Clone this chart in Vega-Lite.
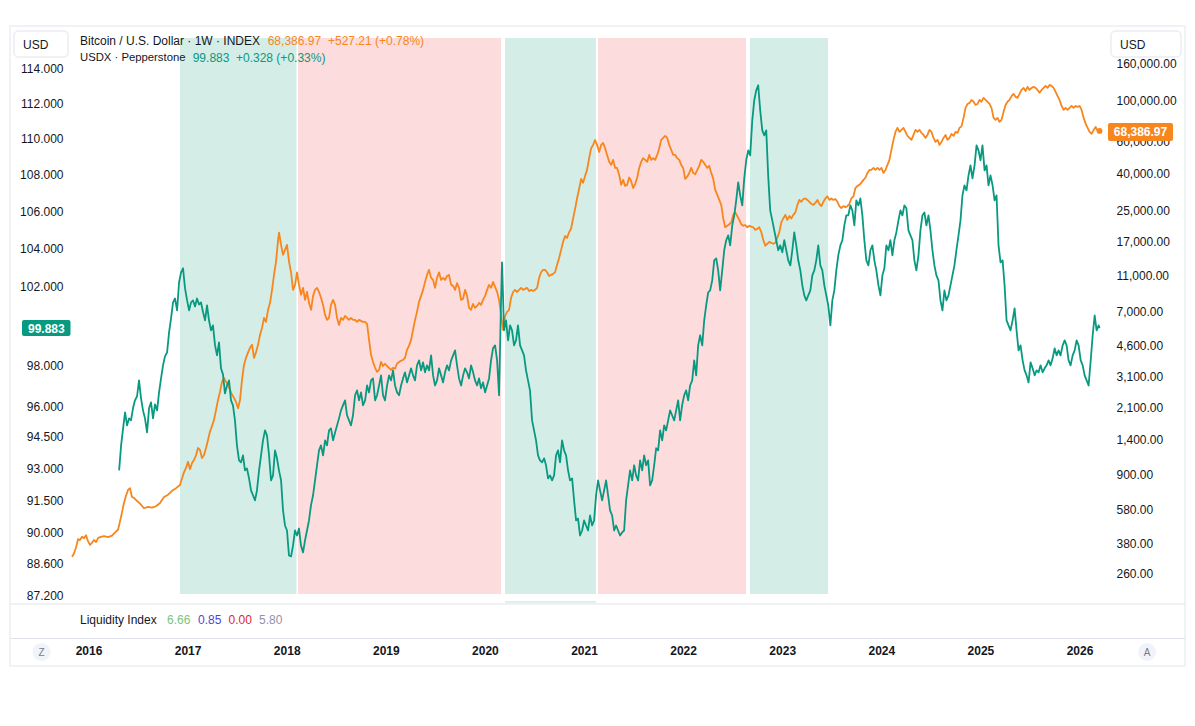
{
  "$schema": "https://vega.github.io/schema/vega-lite/v6.json",
  "width": 1175,
  "height": 640,
  "autosize": {"type": "none"},
  "padding": {"left": 10, "top": 26, "right": 10, "bottom": 60},
  "background": "#ffffff",
  "config": {
    "view": {"stroke": "#eceef3", "strokeWidth": 1.5},
    "font": "Liberation Sans",
    "text": {"font": "Liberation Sans", "fontSize": 12}
  },
  "datasets": {
    "regimes": [
      {"start": 2016.923, "end": 2018.099, "phase": "expanding"},
      {"start": 2018.114, "end": 2020.1625, "phase": "contracting"},
      {"start": 2020.203, "end": 2021.121, "phase": "expanding"},
      {"start": 2021.141, "end": 2022.635, "phase": "contracting"},
      {"start": 2022.675, "end": 2023.462, "phase": "expanding"}
    ],
    "btc": [
      {"t":2015.834,"v":320},{"t":2015.854,"v":335},{"t":2015.874,"v":360},{"t":2015.894,"v":400},{"t":2015.914,"v":395},{"t":2015.934,"v":412},{"t":2015.955,"v":405},{"t":2015.975,"v":420},{"t":2015.995,"v":390},{"t":2016.015,"v":372},{"t":2016.035,"v":382},{"t":2016.055,"v":396},{"t":2016.076,"v":385},{"t":2016.096,"v":405},{"t":2016.116,"v":410},{"t":2016.156,"v":415},{"t":2016.197,"v":410},{"t":2016.237,"v":418},{"t":2016.277,"v":440},{"t":2016.298,"v":450},{"t":2016.318,"v":500},{"t":2016.338,"v":560},{"t":2016.358,"v":630},{"t":2016.378,"v":690},{"t":2016.399,"v":743},{"t":2016.419,"v":760},{"t":2016.439,"v":680},{"t":2016.459,"v":672},{"t":2016.479,"v":655},{"t":2016.52,"v":625},{"t":2016.56,"v":590},{"t":2016.601,"v":600},{"t":2016.641,"v":595},{"t":2016.681,"v":605},{"t":2016.722,"v":630},{"t":2016.762,"v":680},{"t":2016.803,"v":700},{"t":2016.843,"v":735},{"t":2016.883,"v":760},{"t":2016.923,"v":790},{"t":2016.944,"v":860},{"t":2016.964,"v":930},{"t":2016.984,"v":980},
      {"t":2017.004,"v":1060},{"t":2017.024,"v":965},{"t":2017.044,"v":1040},{"t":2017.064,"v":1084},{"t":2017.085,"v":1150},{"t":2017.105,"v":1260},{"t":2017.125,"v":1230},{"t":2017.145,"v":1110},{"t":2017.165,"v":1150},{"t":2017.186,"v":1260},{"t":2017.206,"v":1395},{"t":2017.226,"v":1550},{"t":2017.246,"v":1660},{"t":2017.266,"v":1795},{"t":2017.287,"v":2035},{"t":2017.307,"v":2309},{"t":2017.327,"v":2560},{"t":2017.347,"v":2900},{"t":2017.367,"v":3050},{"t":2017.388,"v":2900},{"t":2017.408,"v":2790},{"t":2017.428,"v":2620},{"t":2017.448,"v":2470},{"t":2017.468,"v":2370},{"t":2017.489,"v":2250},{"t":2017.509,"v":2080},{"t":2017.529,"v":2309},{"t":2017.549,"v":2970},{"t":2017.569,"v":3590},{"t":2017.589,"v":3920},{"t":2017.61,"v":4200},{"t":2017.63,"v":4450},{"t":2017.65,"v":4620},{"t":2017.67,"v":3920},{"t":2017.69,"v":4200},{"t":2017.711,"v":4620},{"t":2017.731,"v":5240},{"t":2017.751,"v":5720},{"t":2017.771,"v":6480},{"t":2017.791,"v":6170},{"t":2017.812,"v":7180},{"t":2017.832,"v":7840},{"t":2017.852,"v":9230},{"t":2017.872,"v":11150},{"t":2017.892,"v":13140},{"t":2017.913,"v":17330},{"t":2017.923,"v":19000},{"t":2017.943,"v":16270},{"t":2017.963,"v":14350},{"t":2017.983,"v":15280},
      {"t":2018.003,"v":16270},{"t":2018.024,"v":13140},{"t":2018.044,"v":11520},{"t":2018.064,"v":9230},{"t":2018.084,"v":9830},{"t":2018.104,"v":11520},{"t":2018.124,"v":9830},{"t":2018.145,"v":8670},{"t":2018.165,"v":9470},{"t":2018.185,"v":8140},{"t":2018.205,"v":8990},{"t":2018.225,"v":7840},{"t":2018.246,"v":7180},{"t":2018.266,"v":8560},{"t":2018.286,"v":9230},{"t":2018.306,"v":9470},{"t":2018.326,"v":8990},{"t":2018.347,"v":8340},{"t":2018.367,"v":7640},{"t":2018.387,"v":6740},{"t":2018.407,"v":6330},{"t":2018.427,"v":6480},{"t":2018.447,"v":7640},{"t":2018.468,"v":8140},{"t":2018.488,"v":7640},{"t":2018.508,"v":6480},{"t":2018.528,"v":5940},{"t":2018.548,"v":6480},{"t":2018.569,"v":6330},{"t":2018.589,"v":6650},{"t":2018.609,"v":6480},{"t":2018.629,"v":6330},{"t":2018.649,"v":6480},{"t":2018.67,"v":6330},{"t":2018.69,"v":6330},{"t":2018.71,"v":6170},{"t":2018.73,"v":6330},{"t":2018.75,"v":6250},{"t":2018.77,"v":6170},{"t":2018.791,"v":6170},{"t":2018.811,"v":6020},{"t":2018.831,"v":4920},{"t":2018.851,"v":4070},{"t":2018.871,"v":3730},{"t":2018.892,"v":3460},{"t":2018.912,"v":3290},{"t":2018.932,"v":3370},{"t":2018.952,"v":3730},{"t":2018.972,"v":3540},{"t":2018.992,"v":3640},
      {"t":2019.013,"v":3540},{"t":2019.033,"v":3460},{"t":2019.053,"v":3370},{"t":2019.073,"v":3460},{"t":2019.093,"v":3420},{"t":2019.113,"v":3640},{"t":2019.134,"v":3730},{"t":2019.154,"v":3780},{"t":2019.174,"v":3820},{"t":2019.194,"v":3920},{"t":2019.214,"v":4340},{"t":2019.234,"v":4560},{"t":2019.255,"v":4920},{"t":2019.275,"v":5580},{"t":2019.295,"v":6330},{"t":2019.315,"v":7000},{"t":2019.335,"v":7940},{"t":2019.356,"v":8560},{"t":2019.376,"v":9230},{"t":2019.396,"v":10200},{"t":2019.416,"v":11150},{"t":2019.436,"v":11880},{"t":2019.457,"v":10740},{"t":2019.477,"v":10470},{"t":2019.497,"v":9470},{"t":2019.517,"v":10740},{"t":2019.537,"v":11520},{"t":2019.558,"v":10470},{"t":2019.578,"v":10740},{"t":2019.598,"v":10470},{"t":2019.618,"v":11000},{"t":2019.638,"v":11150},{"t":2019.659,"v":9830},{"t":2019.679,"v":9710},{"t":2019.699,"v":9230},{"t":2019.719,"v":10060},{"t":2019.739,"v":9470},{"t":2019.759,"v":8140},{"t":2019.779,"v":8240},{"t":2019.8,"v":9230},{"t":2019.82,"v":8560},{"t":2019.84,"v":7360},{"t":2019.86,"v":7180},{"t":2019.88,"v":7740},{"t":2019.901,"v":7360},{"t":2019.921,"v":7540},{"t":2019.941,"v":7840},{"t":2019.961,"v":7640},{"t":2019.981,"v":8140},
      {"t":2020.002,"v":8560},{"t":2020.022,"v":9230},{"t":2020.042,"v":9830},{"t":2020.062,"v":9470},{"t":2020.082,"v":10200},{"t":2020.103,"v":9590},{"t":2020.123,"v":9000},{"t":2020.143,"v":8140},{"t":2020.163,"v":6740},{"t":2020.183,"v":5580},{"t":2020.204,"v":6650},{"t":2020.224,"v":7000},{"t":2020.244,"v":7180},{"t":2020.264,"v":8340},{"t":2020.284,"v":8990},{"t":2020.304,"v":9230},{"t":2020.325,"v":8990},{"t":2020.345,"v":9230},{"t":2020.365,"v":9470},{"t":2020.385,"v":9230},{"t":2020.405,"v":9350},{"t":2020.426,"v":9470},{"t":2020.446,"v":9110},{"t":2020.466,"v":9230},{"t":2020.486,"v":9110},{"t":2020.506,"v":9230},{"t":2020.527,"v":9470},{"t":2020.547,"v":10740},{"t":2020.567,"v":11520},{"t":2020.587,"v":11880},{"t":2020.607,"v":11880},{"t":2020.627,"v":11520},{"t":2020.648,"v":11000},{"t":2020.668,"v":11150},{"t":2020.688,"v":11300},{"t":2020.708,"v":11520},{"t":2020.728,"v":12650},{"t":2020.749,"v":13800},{"t":2020.769,"v":15280},{"t":2020.789,"v":16900},{"t":2020.809,"v":18200},{"t":2020.829,"v":17760},{"t":2020.85,"v":19100},{"t":2020.87,"v":20000},{"t":2020.89,"v":22700},{"t":2020.91,"v":25600},{"t":2020.93,"v":29200},{"t":2020.951,"v":33000},{"t":2020.971,"v":37400},{"t":2020.991,"v":35600},
      {"t":2021.011,"v":38800},{"t":2021.031,"v":41840},{"t":2021.052,"v":48500},{"t":2021.072,"v":55000},{"t":2021.092,"v":57300},{"t":2021.112,"v":61000},{"t":2021.132,"v":57300},{"t":2021.153,"v":52500},{"t":2021.173,"v":57300},{"t":2021.193,"v":58700},{"t":2021.213,"v":55000},{"t":2021.233,"v":50540},{"t":2021.254,"v":46300},{"t":2021.274,"v":44560},{"t":2021.294,"v":47460},{"t":2021.314,"v":42900},{"t":2021.334,"v":42900},{"t":2021.355,"v":39290},{"t":2021.375,"v":34640},{"t":2021.395,"v":36890},{"t":2021.415,"v":34200},{"t":2021.435,"v":34640},{"t":2021.456,"v":38000},{"t":2021.476,"v":36300},{"t":2021.496,"v":33300},{"t":2021.516,"v":35000},{"t":2021.537,"v":38000},{"t":2021.557,"v":42900},{"t":2021.577,"v":46300},{"t":2021.597,"v":48500},{"t":2021.617,"v":47460},{"t":2021.638,"v":46300},{"t":2021.658,"v":50540},{"t":2021.678,"v":47460},{"t":2021.698,"v":48500},{"t":2021.718,"v":47460},{"t":2021.739,"v":50540},{"t":2021.759,"v":55000},{"t":2021.779,"v":61060},{"t":2021.799,"v":62610},{"t":2021.819,"v":64200},{"t":2021.84,"v":62610},{"t":2021.86,"v":57330},{"t":2021.88,"v":53830},{"t":2021.9,"v":50540},{"t":2021.92,"v":50540},{"t":2021.941,"v":48500},{"t":2021.961,"v":47460},{"t":2021.981,"v":44560},
      {"t":2022.001,"v":42900},{"t":2022.021,"v":37400},{"t":2022.042,"v":38400},{"t":2022.062,"v":40300},{"t":2022.082,"v":42900},{"t":2022.102,"v":40300},{"t":2022.122,"v":39600},{"t":2022.143,"v":41840},{"t":2022.163,"v":44000},{"t":2022.183,"v":47460},{"t":2022.203,"v":46300},{"t":2022.224,"v":44560},{"t":2022.244,"v":42900},{"t":2022.264,"v":44000},{"t":2022.284,"v":40300},{"t":2022.304,"v":37400},{"t":2022.324,"v":32500},{"t":2022.345,"v":30540},{"t":2022.365,"v":28670},{"t":2022.385,"v":26900},{"t":2022.405,"v":22700},{"t":2022.425,"v":20300},{"t":2022.446,"v":20700},{"t":2022.466,"v":21100},{"t":2022.486,"v":21600},{"t":2022.506,"v":23740},{"t":2022.526,"v":24500},{"t":2022.547,"v":23400},{"t":2022.567,"v":22290},{"t":2022.587,"v":21100},{"t":2022.607,"v":20700},{"t":2022.627,"v":20900},{"t":2022.648,"v":20300},{"t":2022.668,"v":20700},{"t":2022.688,"v":20500},{"t":2022.708,"v":20300},{"t":2022.728,"v":19650},{"t":2022.749,"v":19900},{"t":2022.769,"v":20300},{"t":2022.789,"v":19100},{"t":2022.809,"v":17330},{"t":2022.829,"v":16100},{"t":2022.85,"v":16500},{"t":2022.87,"v":16900},{"t":2022.89,"v":16700},{"t":2022.91,"v":16500},{"t":2022.93,"v":16700},{"t":2022.95,"v":17770},{"t":2022.971,"v":19100},{"t":2022.991,"v":21600},
      {"t":2023.011,"v":22700},{"t":2023.031,"v":23740},{"t":2023.052,"v":22290},{"t":2023.072,"v":23400},{"t":2023.092,"v":22700},{"t":2023.112,"v":23740},{"t":2023.133,"v":24500},{"t":2023.153,"v":26900},{"t":2023.173,"v":28670},{"t":2023.193,"v":28000},{"t":2023.214,"v":29000},{"t":2023.234,"v":29200},{"t":2023.254,"v":28670},{"t":2023.274,"v":28000},{"t":2023.294,"v":27300},{"t":2023.315,"v":26920},{"t":2023.335,"v":27600},{"t":2023.355,"v":28670},{"t":2023.375,"v":27300},{"t":2023.395,"v":26500},{"t":2023.416,"v":28000},{"t":2023.436,"v":29200},{"t":2023.456,"v":30000},{"t":2023.476,"v":28670},{"t":2023.496,"v":29200},{"t":2023.517,"v":28670},{"t":2023.537,"v":29000},{"t":2023.557,"v":28000},{"t":2023.577,"v":26500},{"t":2023.597,"v":25900},{"t":2023.618,"v":26500},{"t":2023.638,"v":26200},{"t":2023.658,"v":26500},{"t":2023.678,"v":27300},{"t":2023.698,"v":29200},{"t":2023.719,"v":30000},{"t":2023.739,"v":33300},{"t":2023.759,"v":34200},{"t":2023.779,"v":34640},{"t":2023.799,"v":35600},{"t":2023.82,"v":36890},{"t":2023.84,"v":37900},{"t":2023.86,"v":40300},{"t":2023.88,"v":41840},{"t":2023.9,"v":41840},{"t":2023.921,"v":42900},{"t":2023.941,"v":41840},{"t":2023.961,"v":42900},{"t":2023.981,"v":41840},
      {"t":2024.001,"v":42900},{"t":2024.022,"v":40300},{"t":2024.042,"v":41840},{"t":2024.062,"v":44560},{"t":2024.082,"v":47460},{"t":2024.102,"v":53830},{"t":2024.123,"v":61060},{"t":2024.143,"v":67500},{"t":2024.163,"v":71010},{"t":2024.183,"v":67500},{"t":2024.203,"v":69250},{"t":2024.224,"v":71010},{"t":2024.244,"v":67500},{"t":2024.264,"v":64200},{"t":2024.284,"v":62610},{"t":2024.304,"v":61060},{"t":2024.325,"v":65020},{"t":2024.345,"v":69250},{"t":2024.365,"v":67500},{"t":2024.385,"v":69250},{"t":2024.405,"v":66700},{"t":2024.426,"v":65020},{"t":2024.446,"v":62610},{"t":2024.466,"v":65020},{"t":2024.486,"v":69250},{"t":2024.506,"v":67500},{"t":2024.527,"v":62610},{"t":2024.547,"v":59500},{"t":2024.567,"v":61060},{"t":2024.587,"v":57330},{"t":2024.607,"v":59500},{"t":2024.628,"v":62610},{"t":2024.648,"v":65020},{"t":2024.668,"v":61060},{"t":2024.688,"v":62610},{"t":2024.708,"v":65850},{"t":2024.729,"v":64200},{"t":2024.749,"v":67500},{"t":2024.769,"v":66700},{"t":2024.789,"v":71010},{"t":2024.809,"v":72400},{"t":2024.83,"v":80540},{"t":2024.85,"v":91340},{"t":2024.87,"v":96000},{"t":2024.89,"v":97300},{"t":2024.91,"v":101000},{"t":2024.931,"v":98700},{"t":2024.951,"v":94860},{"t":2024.971,"v":96000},{"t":2024.991,"v":101000},
      {"t":2025.011,"v":98700},{"t":2025.032,"v":103600},{"t":2025.052,"v":101000},{"t":2025.072,"v":98700},{"t":2025.092,"v":96000},{"t":2025.112,"v":91340},{"t":2025.133,"v":80540},{"t":2025.153,"v":78540},{"t":2025.173,"v":80540},{"t":2025.193,"v":76590},{"t":2025.213,"v":78540},{"t":2025.234,"v":87000},{"t":2025.254,"v":94860},{"t":2025.274,"v":98700},{"t":2025.294,"v":101000},{"t":2025.314,"v":106000},{"t":2025.335,"v":109000},{"t":2025.355,"v":105000},{"t":2025.375,"v":103600},{"t":2025.395,"v":109000},{"t":2025.415,"v":114600},{"t":2025.436,"v":117500},{"t":2025.456,"v":113100},{"t":2025.476,"v":119000},{"t":2025.496,"v":114600},{"t":2025.517,"v":117500},{"t":2025.537,"v":119000},{"t":2025.557,"v":117500},{"t":2025.577,"v":114600},{"t":2025.597,"v":110400},{"t":2025.617,"v":114600},{"t":2025.638,"v":117500},{"t":2025.658,"v":120500},{"t":2025.678,"v":117500},{"t":2025.698,"v":122000},{"t":2025.718,"v":120500},{"t":2025.739,"v":117500},{"t":2025.759,"v":111700},{"t":2025.779,"v":106000},{"t":2025.799,"v":101000},{"t":2025.819,"v":93700},{"t":2025.84,"v":89080},{"t":2025.86,"v":91340},{"t":2025.88,"v":89080},{"t":2025.9,"v":91340},{"t":2025.92,"v":93600},{"t":2025.94,"v":91340},{"t":2025.961,"v":93600},{"t":2025.981,"v":92500},
      {"t":2026.001,"v":93600},{"t":2026.021,"v":89080},{"t":2026.042,"v":80540},{"t":2026.062,"v":74900},{"t":2026.082,"v":71010},{"t":2026.102,"v":67500},{"t":2026.123,"v":66000},{"t":2026.143,"v":69250},{"t":2026.163,"v":71900},{"t":2026.183,"v":68200},{"t":2026.203,"v":68386.97}
    ],
    "usdx": [
      {"t":2016.309,"v":92.91},{"t":2016.329,"v":94.1},{"t":2016.349,"v":94.92},{"t":2016.369,"v":95.69},{"t":2016.389,"v":95.06},{"t":2016.409,"v":95.4},{"t":2016.429,"v":95.3},{"t":2016.449,"v":95.89},{"t":2016.469,"v":96.28},{"t":2016.49,"v":96.48},{"t":2016.51,"v":97.26},{"t":2016.53,"v":96.38},{"t":2016.55,"v":95.79},{"t":2016.57,"v":95.4},{"t":2016.591,"v":94.72},{"t":2016.611,"v":95.89},{"t":2016.631,"v":96.18},{"t":2016.651,"v":95.4},{"t":2016.671,"v":96.08},{"t":2016.692,"v":95.79},{"t":2016.712,"v":96.67},{"t":2016.732,"v":97.36},{"t":2016.752,"v":98.01},{"t":2016.772,"v":98.46},{"t":2016.793,"v":98.66},{"t":2016.813,"v":99.67},{"t":2016.833,"v":100.38},{"t":2016.853,"v":101.2},{"t":2016.873,"v":101.4},{"t":2016.894,"v":100.79},{"t":2016.914,"v":102.24},{"t":2016.934,"v":102.76},{"t":2016.954,"v":102.97},{"t":2016.974,"v":101.92},{"t":2016.995,"v":101.3},
      {"t":2017.015,"v":100.79},{"t":2017.035,"v":101.2},{"t":2017.055,"v":101.3},{"t":2017.075,"v":100.99},{"t":2017.095,"v":101.4},{"t":2017.115,"v":101.09},{"t":2017.135,"v":101.2},{"t":2017.156,"v":100.69},{"t":2017.176,"v":100.28},{"t":2017.196,"v":101.04},{"t":2017.216,"v":100.28},{"t":2017.236,"v":99.77},{"t":2017.256,"v":100.02},{"t":2017.277,"v":99.01},{"t":2017.297,"v":98.51},{"t":2017.317,"v":99.16},{"t":2017.337,"v":97.86},{"t":2017.357,"v":97.56},{"t":2017.377,"v":96.62},{"t":2017.398,"v":97.01},{"t":2017.418,"v":97.26},{"t":2017.438,"v":96.28},{"t":2017.458,"v":96.03},{"t":2017.478,"v":95.3},{"t":2017.498,"v":94.1},{"t":2017.519,"v":93.38},{"t":2017.539,"v":93.29},{"t":2017.559,"v":93.62},{"t":2017.579,"v":92.91},{"t":2017.599,"v":93.0},{"t":2017.62,"v":92.53},{"t":2017.64,"v":91.97},{"t":2017.66,"v":91.74},{"t":2017.68,"v":91.5},{"t":2017.7,"v":91.97},{"t":2017.721,"v":92.91},{"t":2017.741,"v":93.62},{"t":2017.761,"v":94.34},{"t":2017.781,"v":94.82},{"t":2017.801,"v":94.58},{"t":2017.822,"v":93.62},{"t":2017.842,"v":92.44},{"t":2017.862,"v":92.67},{"t":2017.882,"v":93.86},{"t":2017.902,"v":93.48},{"t":2017.922,"v":92.91},{"t":2017.943,"v":92.44},{"t":2017.963,"v":91.04},{"t":2017.983,"v":90.34},
      {"t":2018.003,"v":90.11},{"t":2018.023,"v":88.97},{"t":2018.044,"v":88.93},{"t":2018.064,"v":89.43},{"t":2018.084,"v":90.11},{"t":2018.104,"v":89.88},{"t":2018.124,"v":90.2},{"t":2018.144,"v":89.43},{"t":2018.165,"v":89.11},{"t":2018.185,"v":89.66},{"t":2018.205,"v":90.11},{"t":2018.225,"v":90.57},{"t":2018.245,"v":91.27},{"t":2018.266,"v":91.74},{"t":2018.286,"v":92.44},{"t":2018.306,"v":93.15},{"t":2018.326,"v":93.86},{"t":2018.346,"v":94.1},{"t":2018.367,"v":93.62},{"t":2018.387,"v":94.34},{"t":2018.407,"v":94.1},{"t":2018.427,"v":94.82},{"t":2018.447,"v":94.92},{"t":2018.468,"v":94.34},{"t":2018.488,"v":94.72},{"t":2018.508,"v":95.06},{"t":2018.528,"v":95.4},{"t":2018.548,"v":95.79},{"t":2018.568,"v":96.03},{"t":2018.589,"v":96.28},{"t":2018.609,"v":95.55},{"t":2018.629,"v":95.3},{"t":2018.649,"v":95.06},{"t":2018.669,"v":95.55},{"t":2018.69,"v":96.53},{"t":2018.71,"v":96.77},{"t":2018.73,"v":96.28},{"t":2018.75,"v":96.67},{"t":2018.77,"v":96.03},{"t":2018.791,"v":96.28},{"t":2018.811,"v":97.01},{"t":2018.831,"v":96.67},{"t":2018.851,"v":97.26},{"t":2018.871,"v":97.36},{"t":2018.892,"v":96.28},{"t":2018.912,"v":96.53},{"t":2018.932,"v":97.01},{"t":2018.952,"v":97.51},{"t":2018.972,"v":96.53},{"t":2018.992,"v":96.28},
      {"t":2019.013,"v":97.01},{"t":2019.033,"v":97.51},{"t":2019.053,"v":97.26},{"t":2019.073,"v":97.76},{"t":2019.093,"v":97.01},{"t":2019.114,"v":96.67},{"t":2019.134,"v":96.53},{"t":2019.154,"v":97.01},{"t":2019.174,"v":97.36},{"t":2019.194,"v":97.66},{"t":2019.214,"v":97.16},{"t":2019.235,"v":97.51},{"t":2019.255,"v":97.86},{"t":2019.275,"v":97.51},{"t":2019.295,"v":97.26},{"t":2019.315,"v":98.01},{"t":2019.336,"v":98.26},{"t":2019.356,"v":97.76},{"t":2019.376,"v":98.16},{"t":2019.396,"v":97.66},{"t":2019.416,"v":98.01},{"t":2019.436,"v":97.76},{"t":2019.457,"v":98.51},{"t":2019.477,"v":97.51},{"t":2019.497,"v":97.01},{"t":2019.517,"v":97.26},{"t":2019.537,"v":97.86},{"t":2019.558,"v":97.51},{"t":2019.578,"v":97.16},{"t":2019.598,"v":97.66},{"t":2019.618,"v":98.01},{"t":2019.638,"v":97.76},{"t":2019.659,"v":98.26},{"t":2019.679,"v":98.51},{"t":2019.699,"v":98.76},{"t":2019.719,"v":98.01},{"t":2019.739,"v":97.36},{"t":2019.76,"v":97.01},{"t":2019.78,"v":97.51},{"t":2019.8,"v":97.86},{"t":2019.82,"v":97.66},{"t":2019.84,"v":97.36},{"t":2019.86,"v":98.01},{"t":2019.881,"v":97.66},{"t":2019.901,"v":97.26},{"t":2019.921,"v":97.01},{"t":2019.941,"v":97.36},{"t":2019.961,"v":96.87},{"t":2019.981,"v":97.16},
      {"t":2020.002,"v":96.67},{"t":2020.022,"v":97.01},{"t":2020.042,"v":97.36},{"t":2020.062,"v":98.26},{"t":2020.082,"v":98.86},{"t":2020.103,"v":99.01},{"t":2020.123,"v":98.26},{"t":2020.143,"v":96.53},{"t":2020.163,"v":101.3},{"t":2020.173,"v":103.28},{"t":2020.193,"v":99.77},{"t":2020.213,"v":100.28},{"t":2020.234,"v":99.26},{"t":2020.254,"v":100.02},{"t":2020.274,"v":99.77},{"t":2020.294,"v":99.01},{"t":2020.314,"v":99.26},{"t":2020.334,"v":100.02},{"t":2020.355,"v":99.01},{"t":2020.375,"v":98.76},{"t":2020.395,"v":98.51},{"t":2020.415,"v":97.76},{"t":2020.435,"v":97.26},{"t":2020.455,"v":96.77},{"t":2020.476,"v":95.3},{"t":2020.496,"v":94.82},{"t":2020.516,"v":94.34},{"t":2020.536,"v":93.62},{"t":2020.556,"v":93.38},{"t":2020.577,"v":93.29},{"t":2020.597,"v":93.48},{"t":2020.617,"v":93.15},{"t":2020.637,"v":92.53},{"t":2020.657,"v":92.67},{"t":2020.678,"v":92.44},{"t":2020.698,"v":92.67},{"t":2020.718,"v":93.62},{"t":2020.738,"v":93.86},{"t":2020.758,"v":93.29},{"t":2020.779,"v":94.34},{"t":2020.799,"v":93.86},{"t":2020.819,"v":93.62},{"t":2020.839,"v":92.91},{"t":2020.859,"v":92.44},{"t":2020.88,"v":92.53},{"t":2020.9,"v":91.5},{"t":2020.92,"v":90.57},{"t":2020.94,"v":90.66},{"t":2020.96,"v":89.88},{"t":2020.981,"v":90.11},
      {"t":2021.001,"v":90.57},{"t":2021.021,"v":90.34},{"t":2021.041,"v":90.11},{"t":2021.061,"v":90.8},{"t":2021.082,"v":90.34},{"t":2021.102,"v":90.57},{"t":2021.122,"v":91.74},{"t":2021.142,"v":92.44},{"t":2021.162,"v":91.97},{"t":2021.183,"v":91.5},{"t":2021.203,"v":91.97},{"t":2021.223,"v":92.44},{"t":2021.243,"v":91.74},{"t":2021.263,"v":91.04},{"t":2021.284,"v":90.8},{"t":2021.304,"v":90.11},{"t":2021.324,"v":90.34},{"t":2021.344,"v":90.11},{"t":2021.364,"v":89.88},{"t":2021.385,"v":90.02},{"t":2021.405,"v":90.11},{"t":2021.425,"v":91.5},{"t":2021.445,"v":92.2},{"t":2021.465,"v":92.91},{"t":2021.486,"v":92.44},{"t":2021.506,"v":93.15},{"t":2021.526,"v":92.67},{"t":2021.546,"v":92.44},{"t":2021.566,"v":93.38},{"t":2021.587,"v":92.91},{"t":2021.607,"v":93.62},{"t":2021.627,"v":93.15},{"t":2021.647,"v":93.38},{"t":2021.667,"v":92.2},{"t":2021.688,"v":92.44},{"t":2021.708,"v":93.15},{"t":2021.728,"v":93.96},{"t":2021.748,"v":93.86},{"t":2021.768,"v":94.82},{"t":2021.789,"v":94.34},{"t":2021.809,"v":95.06},{"t":2021.829,"v":94.82},{"t":2021.849,"v":95.3},{"t":2021.869,"v":95.79},{"t":2021.889,"v":95.55},{"t":2021.91,"v":95.3},{"t":2021.93,"v":95.79},{"t":2021.95,"v":96.28},{"t":2021.97,"v":95.3},{"t":2021.99,"v":96.03},
      {"t":2022.011,"v":96.53},{"t":2022.031,"v":96.77},{"t":2022.051,"v":96.28},{"t":2022.071,"v":97.01},{"t":2022.092,"v":97.26},{"t":2022.112,"v":98.26},{"t":2022.132,"v":97.51},{"t":2022.152,"v":99.01},{"t":2022.172,"v":99.52},{"t":2022.193,"v":99.01},{"t":2022.213,"v":100.28},{"t":2022.233,"v":101.04},{"t":2022.253,"v":101.71},{"t":2022.273,"v":101.82},{"t":2022.294,"v":102.34},{"t":2022.314,"v":103.39},{"t":2022.334,"v":103.49},{"t":2022.354,"v":102.86},{"t":2022.374,"v":101.82},{"t":2022.395,"v":102.86},{"t":2022.415,"v":103.92},{"t":2022.435,"v":104.45},{"t":2022.455,"v":104.71},{"t":2022.475,"v":104.18},{"t":2022.496,"v":105.24},{"t":2022.516,"v":105.78},{"t":2022.536,"v":106.59},{"t":2022.556,"v":107.57},{"t":2022.576,"v":106.86},{"t":2022.597,"v":106.32},{"t":2022.617,"v":107.79},{"t":2022.637,"v":108.79},{"t":2022.657,"v":109.34},{"t":2022.677,"v":109.06},{"t":2022.698,"v":111.02},{"t":2022.718,"v":112.16},{"t":2022.738,"v":112.73},{"t":2022.758,"v":113.02},{"t":2022.778,"v":111.59},{"t":2022.799,"v":110.46},{"t":2022.819,"v":110.18},{"t":2022.839,"v":110.46},{"t":2022.859,"v":107.9},{"t":2022.879,"v":106.05},{"t":2022.9,"v":105.51},{"t":2022.92,"v":104.98},{"t":2022.94,"v":104.45},{"t":2022.96,"v":103.92},{"t":2022.98,"v":104.18},
      {"t":2023.001,"v":103.81},{"t":2023.021,"v":104.45},{"t":2023.041,"v":103.92},{"t":2023.061,"v":103.39},{"t":2023.082,"v":103.12},{"t":2023.102,"v":103.92},{"t":2023.122,"v":104.87},{"t":2023.142,"v":104.18},{"t":2023.162,"v":103.39},{"t":2023.183,"v":102.86},{"t":2023.203,"v":102.08},{"t":2023.223,"v":101.56},{"t":2023.243,"v":101.3},{"t":2023.263,"v":101.56},{"t":2023.284,"v":101.82},{"t":2023.304,"v":102.6},{"t":2023.324,"v":102.86},{"t":2023.344,"v":103.39},{"t":2023.364,"v":104.18},{"t":2023.385,"v":103.12},{"t":2023.405,"v":102.86},{"t":2023.425,"v":102.08},{"t":2023.445,"v":101.56},{"t":2023.465,"v":101.04},{"t":2023.486,"v":100.02},{"t":2023.506,"v":101.3},{"t":2023.526,"v":101.82},{"t":2023.546,"v":102.86},{"t":2023.566,"v":103.65},{"t":2023.587,"v":104.18},{"t":2023.607,"v":104.45},{"t":2023.627,"v":105.24},{"t":2023.647,"v":105.78},{"t":2023.667,"v":105.78},{"t":2023.688,"v":106.32},{"t":2023.708,"v":106.05},{"t":2023.728,"v":105.24},{"t":2023.748,"v":106.59},{"t":2023.769,"v":106.32},{"t":2023.789,"v":106.7},{"t":2023.809,"v":105.78},{"t":2023.829,"v":104.45},{"t":2023.849,"v":103.39},{"t":2023.87,"v":103.12},{"t":2023.89,"v":103.92},{"t":2023.91,"v":104.18},{"t":2023.93,"v":103.39},{"t":2023.95,"v":102.86},{"t":2023.971,"v":102.08},{"t":2023.991,"v":101.56},
      {"t":2024.011,"v":102.6},{"t":2024.031,"v":102.97},{"t":2024.051,"v":104.18},{"t":2024.072,"v":103.92},{"t":2024.092,"v":104.45},{"t":2024.112,"v":103.65},{"t":2024.132,"v":104.45},{"t":2024.152,"v":104.87},{"t":2024.173,"v":105.51},{"t":2024.193,"v":106.05},{"t":2024.213,"v":105.78},{"t":2024.233,"v":106.32},{"t":2024.253,"v":106.16},{"t":2024.274,"v":104.98},{"t":2024.294,"v":104.71},{"t":2024.314,"v":104.45},{"t":2024.334,"v":103.39},{"t":2024.354,"v":102.86},{"t":2024.375,"v":103.65},{"t":2024.395,"v":104.98},{"t":2024.415,"v":105.78},{"t":2024.435,"v":105.94},{"t":2024.455,"v":105.24},{"t":2024.476,"v":105.78},{"t":2024.496,"v":104.98},{"t":2024.516,"v":103.92},{"t":2024.536,"v":103.12},{"t":2024.556,"v":102.6},{"t":2024.577,"v":102.34},{"t":2024.597,"v":101.3},{"t":2024.617,"v":100.79},{"t":2024.637,"v":101.82},{"t":2024.657,"v":101.3},{"t":2024.678,"v":101.56},{"t":2024.698,"v":102.08},{"t":2024.718,"v":102.6},{"t":2024.738,"v":103.12},{"t":2024.758,"v":103.92},{"t":2024.779,"v":104.71},{"t":2024.799,"v":105.51},{"t":2024.819,"v":106.86},{"t":2024.839,"v":107.41},{"t":2024.86,"v":107.14},{"t":2024.88,"v":107.95},{"t":2024.9,"v":108.51},{"t":2024.92,"v":107.79},{"t":2024.941,"v":108.51},{"t":2024.961,"v":109.62},{"t":2024.981,"v":109.34},
      {"t":2025.001,"v":108.79},{"t":2025.021,"v":109.62},{"t":2025.042,"v":108.23},{"t":2025.062,"v":108.51},{"t":2025.082,"v":107.41},{"t":2025.102,"v":107.95},{"t":2025.123,"v":107.41},{"t":2025.143,"v":106.59},{"t":2025.163,"v":106.86},{"t":2025.183,"v":104.18},{"t":2025.203,"v":103.28},{"t":2025.224,"v":103.39},{"t":2025.244,"v":102.08},{"t":2025.264,"v":100.28},{"t":2025.284,"v":100.02},{"t":2025.304,"v":99.77},{"t":2025.325,"v":100.28},{"t":2025.345,"v":100.89},{"t":2025.365,"v":99.77},{"t":2025.385,"v":98.76},{"t":2025.405,"v":99.01},{"t":2025.426,"v":98.26},{"t":2025.446,"v":97.76},{"t":2025.466,"v":97.51},{"t":2025.486,"v":97.16},{"t":2025.506,"v":98.16},{"t":2025.527,"v":97.86},{"t":2025.547,"v":97.51},{"t":2025.567,"v":97.76},{"t":2025.587,"v":97.66},{"t":2025.607,"v":98.01},{"t":2025.628,"v":97.66},{"t":2025.648,"v":97.86},{"t":2025.668,"v":98.01},{"t":2025.688,"v":98.26},{"t":2025.708,"v":98.01},{"t":2025.729,"v":98.36},{"t":2025.749,"v":98.86},{"t":2025.769,"v":98.51},{"t":2025.789,"v":98.76},{"t":2025.809,"v":98.51},{"t":2025.83,"v":99.01},{"t":2025.85,"v":99.26},{"t":2025.87,"v":99.01},{"t":2025.89,"v":98.26},{"t":2025.91,"v":98.01},{"t":2025.931,"v":98.51},{"t":2025.951,"v":98.76},{"t":2025.971,"v":99.26},{"t":2025.991,"v":99.01},
      {"t":2026.012,"v":98.26},{"t":2026.032,"v":98.01},{"t":2026.052,"v":97.51},{"t":2026.072,"v":97.26},{"t":2026.092,"v":97.01},{"t":2026.113,"v":98.26},{"t":2026.133,"v":99.52},{"t":2026.153,"v":100.53},{"t":2026.173,"v":99.77},{"t":2026.193,"v":100.02},{"t":2026.203,"v":99.883}
    ]
  },
  "layer": [
    {
      "data": {"name": "regimes"},
      "layer": [
        {
          "mark": {"type": "rect"},
          "encoding": {
            "x": {"field": "start", "type": "quantitative", "scale": {"domain": [2015.2079, 2027.0646], "nice": false, "zero": false},
                  "axis": {"orient": "bottom", "offset": -28, "values": [2016,2017,2018,2019,2020,2021,2022,2023,2024,2025,2026], "format": "d", "labelFont": "Liberation Sans", "labelFontSize": 12, "labelFontWeight": "bold", "labelColor": "#131722", "domainColor": "#e0e3eb", "domainWidth": 1, "ticks": false, "tickSize": 0, "grid": false, "labelPadding": 7, "labelFlush": false, "labelOverlap": false, "title": null}},
            "x2": {"field": "end"},
            "y": {"datum": 115.77, "type": "quantitative", "scale": {"type": "log", "domain": [84.106, 116.481], "nice": false, "zero": false}, "axis": null},
            "y2": {"datum": 87.24},
            "color": {"field": "phase", "type": "nominal", "scale": {"domain": ["expanding", "contracting"], "range": ["#d4ede7", "#fcdcdd"]}, "legend": null}
          }
        },
        {
          "transform": [{"filter": "datum.start > 2020 && datum.start < 2021"}],
          "mark": {"type": "rule", "color": "#d4ede7", "strokeWidth": 1.5},
          "encoding": {
            "x": {"field": "start", "type": "quantitative", "scale": {"domain": [2015.2079, 2027.0646], "nice": false, "zero": false},
                  "axis": {"orient": "bottom", "offset": -28, "values": [2016,2017,2018,2019,2020,2021,2022,2023,2024,2025,2026], "format": "d", "labelFont": "Liberation Sans", "labelFontSize": 12, "labelFontWeight": "bold", "labelColor": "#131722", "domainColor": "#e0e3eb", "domainWidth": 1, "ticks": false, "tickSize": 0, "grid": false, "labelPadding": 7, "labelFlush": false, "labelOverlap": false, "title": null}},
            "x2": {"field": "end"},
            "y": {"datum": 86.885, "type": "quantitative"}
          }
        }
      ]
    },
    {
      "data": {"name": "btc"},
      "encoding": {
        "x": {"field": "t", "type": "quantitative", "scale": {"domain": [2015.2079, 2027.0646], "nice": false, "zero": false},
              "axis": {"orient": "bottom", "offset": -28, "values": [2016,2017,2018,2019,2020,2021,2022,2023,2024,2025,2026], "format": "d", "labelFont": "Liberation Sans", "labelFontSize": 12, "labelFontWeight": "bold", "labelColor": "#131722", "domainColor": "#e0e3eb", "domainWidth": 1, "ticks": false, "tickSize": 0, "grid": false, "labelPadding": 7, "labelFlush": false, "labelOverlap": false, "title": null}},
        "y": {"field": "v", "type": "quantitative", "scale": {"type": "log", "domain": [80.92, 256261], "nice": false, "zero": false},
              "axis": {"orient": "right", "offset": -80, "values": [260,380,580,900,1400,2100,3100,4600,7000,11000,17000,25000,40000,60000,100000,160000], "format": ",.2f", "labelFont": "Liberation Sans", "labelFontSize": 12, "labelColor": "#131722", "domain": false, "ticks": false, "tickSize": 0, "grid": false, "labelPadding": 11, "labelFlush": false, "labelOverlap": false, "title": null}}
      },
      "layer": [
        {"mark": {"type": "line", "color": "#f7861c", "strokeWidth": 1.8, "strokeJoin": "round"}},
        {
          "transform": [{"filter": "datum.t > 2026.2"}],
          "mark": {"type": "point", "filled": true, "color": "#f7861c", "size": 34, "opacity": 1}
        },
        {
          "transform": [{"filter": "datum.t > 2026.2"}],
          "mark": {"type": "rect", "color": "#f7861c", "yOffset": -8, "y2Offset": 10, "cornerRadius": 2},
          "encoding": {
            "x": {"value": 1098},
            "x2": {"value": 1163},
            "y2": {"field": "v"}
          }
        },
        {
          "transform": [{"filter": "datum.t > 2026.2"}],
          "mark": {"type": "text", "color": "#ffffff", "fontWeight": "bold", "fontSize": 12, "align": "center", "baseline": "middle", "dy": 1.5},
          "encoding": {
            "x": {"value": 1130.5},
            "text": {"field": "v", "type": "quantitative", "format": ",.2f"}
          }
        }
      ]
    },
    {
      "data": {"name": "usdx"},
      "encoding": {
        "x": {"field": "t", "type": "quantitative", "scale": {"domain": [2015.2079, 2027.0646], "nice": false, "zero": false},
              "axis": {"orient": "bottom", "offset": -28, "values": [2016,2017,2018,2019,2020,2021,2022,2023,2024,2025,2026], "format": "d", "labelFont": "Liberation Sans", "labelFontSize": 12, "labelFontWeight": "bold", "labelColor": "#131722", "domainColor": "#e0e3eb", "domainWidth": 1, "ticks": false, "tickSize": 0, "grid": false, "labelPadding": 7, "labelFlush": false, "labelOverlap": false, "title": null}},
        "y": {"field": "v", "type": "quantitative", "scale": {"type": "log", "domain": [84.106, 116.481], "nice": false, "zero": false},
              "axis": {"orient": "left", "offset": -60, "values": [87.2,88.6,90,91.5,93,94.5,96,98,102,104,106,108,110,112,114], "format": ".3f", "labelFont": "Liberation Sans", "labelFontSize": 12, "labelColor": "#131722", "domain": false, "ticks": false, "tickSize": 0, "grid": false, "labelPadding": 7, "labelFlush": false, "labelOverlap": false, "title": null}}
      },
      "layer": [
        {"mark": {"type": "line", "color": "#089981", "strokeWidth": 1.8, "strokeJoin": "round"}},
        {
          "transform": [{"filter": "datum.t > 2026.2"}],
          "mark": {"type": "rect", "color": "#089981", "yOffset": -8, "y2Offset": 8, "cornerRadius": 2},
          "encoding": {
            "x": {"value": 12},
            "x2": {"value": 60.5},
            "y2": {"field": "v"}
          }
        },
        {
          "transform": [{"filter": "datum.t > 2026.2"}],
          "mark": {"type": "text", "color": "#ffffff", "fontWeight": "bold", "fontSize": 12, "align": "center", "baseline": "middle", "dy": 1},
          "encoding": {
            "x": {"value": 36.3},
            "text": {"field": "v", "type": "quantitative", "format": ".3f"}
          }
        }
      ]
    },
    {
      "data": {"values": [{}]},
      "layer": [
        {"mark": {"type": "rule", "color": "#e0e3eb", "strokeWidth": 1}, "encoding": {"x": {"value": 0}, "x2": {"value": 1175}, "y": {"value": 578}}},
        {"mark": {"type": "rect", "fill": "#ffffff", "stroke": "#e0e3eb", "strokeWidth": 1, "cornerRadius": 4}, "encoding": {"x": {"value": 4}, "x2": {"value": 58}, "y": {"value": 5}, "y2": {"value": 31}}},
        {"mark": {"type": "rect", "fill": "#ffffff", "stroke": "#e0e3eb", "strokeWidth": 1, "cornerRadius": 4}, "encoding": {"x": {"value": 1101}, "x2": {"value": 1171}, "y": {"value": 5}, "y2": {"value": 31}}},
        {"mark": {"type": "text", "align": "left", "baseline": "middle", "color": "#131722", "fontSize": 12}, "encoding": {"x": {"value": 13}, "y": {"value": 18.5}, "text": {"value": "USD"}}},
        {"mark": {"type": "text", "align": "left", "baseline": "middle", "color": "#131722", "fontSize": 12}, "encoding": {"x": {"value": 1110}, "y": {"value": 18.5}, "text": {"value": "USD"}}},
        {"mark": {"type": "text", "align": "left", "baseline": "middle", "color": "#131722", "fontSize": 12}, "encoding": {"x": {"value": 70}, "y": {"value": 15}, "text": {"value": "Bitcoin / U.S. Dollar · 1W · INDEX"}}},
        {"mark": {"type": "text", "align": "left", "baseline": "middle", "color": "#f7861c", "fontSize": 12}, "encoding": {"x": {"value": 257.7}, "y": {"value": 15}, "text": {"value": "68,386.97"}}},
        {"mark": {"type": "text", "align": "left", "baseline": "middle", "color": "#f7861c", "fontSize": 12}, "encoding": {"x": {"value": 318}, "y": {"value": 15}, "text": {"value": "+527.21 (+0.78%)"}}},
        {"mark": {"type": "text", "align": "left", "baseline": "middle", "color": "#131722", "fontSize": 11.3}, "encoding": {"x": {"value": 70}, "y": {"value": 32.3}, "text": {"value": "USDX · Pepperstone"}}},
        {"mark": {"type": "text", "align": "left", "baseline": "middle", "color": "#089981", "fontSize": 12}, "encoding": {"x": {"value": 182.7}, "y": {"value": 32.3}, "text": {"value": "99.883"}}},
        {"mark": {"type": "text", "align": "left", "baseline": "middle", "color": "#089981", "fontSize": 12}, "encoding": {"x": {"value": 226}, "y": {"value": 32.3}, "text": {"value": "+0.328 (+0.33%)"}}},
        {"mark": {"type": "text", "align": "left", "baseline": "middle", "color": "#131722", "fontSize": 12}, "encoding": {"x": {"value": 70}, "y": {"value": 593.5}, "text": {"value": "Liquidity Index"}}},
        {"mark": {"type": "text", "align": "left", "baseline": "middle", "color": "#7dc57a", "fontSize": 12}, "encoding": {"x": {"value": 157}, "y": {"value": 593.5}, "text": {"value": "6.66"}}},
        {"mark": {"type": "text", "align": "left", "baseline": "middle", "color": "#4f44d8", "fontSize": 12}, "encoding": {"x": {"value": 188}, "y": {"value": 593.5}, "text": {"value": "0.85"}}},
        {"mark": {"type": "text", "align": "left", "baseline": "middle", "color": "#dd1f2a", "fontSize": 12}, "encoding": {"x": {"value": 218.5}, "y": {"value": 593.5}, "text": {"value": "0.00"}}},
        {"mark": {"type": "text", "align": "left", "baseline": "middle", "color": "#9590ad", "fontSize": 12}, "encoding": {"x": {"value": 249}, "y": {"value": 593.5}, "text": {"value": "5.80"}}},
        {"mark": {"type": "point", "shape": "circle", "filled": true, "color": "#f0f3fa", "size": 324, "opacity": 1}, "encoding": {"x": {"value": 31.5}, "y": {"value": 626}}},
        {"mark": {"type": "point", "shape": "circle", "filled": true, "color": "#f0f3fa", "size": 324, "opacity": 1}, "encoding": {"x": {"value": 1137}, "y": {"value": 626}}},
        {"mark": {"type": "text", "align": "center", "baseline": "middle", "color": "#787b86", "fontSize": 10}, "encoding": {"x": {"value": 31.5}, "y": {"value": 626.5}, "text": {"value": "Z"}}},
        {"mark": {"type": "text", "align": "center", "baseline": "middle", "color": "#787b86", "fontSize": 10}, "encoding": {"x": {"value": 1137}, "y": {"value": 626.5}, "text": {"value": "A"}}}
      ]
    }
  ],
  "resolve": {"scale": {"y": "independent"}}
}
